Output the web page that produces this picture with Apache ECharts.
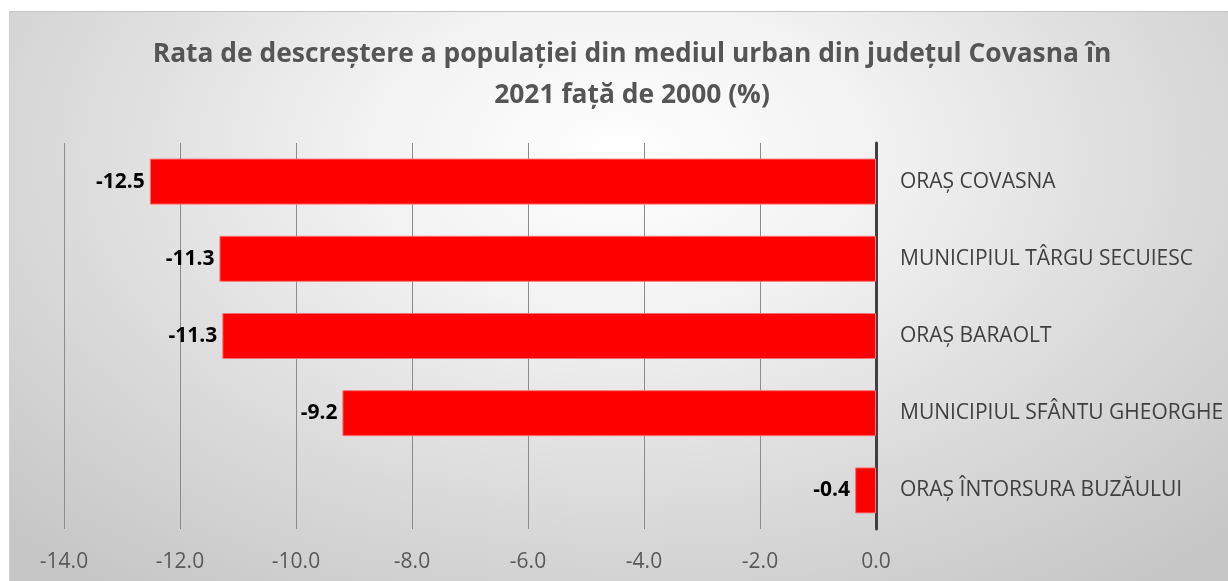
<!DOCTYPE html>
<html>
<head>
<meta charset="utf-8">
<script src="https://cdn.jsdelivr.net/npm/echarts@6/dist/echarts.min.js"></script>
<style>
  html, body { margin: 0; padding: 0; background: #fff; }
  #chart {
    position: absolute;
    left: 9px;
    top: 11px;
    width: 1219px;
    height: 570px;
    border-top: 1px solid #c4c4c4;
    border-left: 1px solid #d0d0d0;
    box-sizing: border-box;
    background: radial-gradient(ellipse 70% 95% at 50% 25%, #ffffff 0%, #f2f2f2 30%, #dedede 60%, #c6c6c6 100%);
  }
</style>
</head>
<body>
<div id="chart"></div>
<script>
const titleLines = ['Rata de descreștere a populației din mediul urban din județul Covasna în', '2021 față de 2000 (%)'];
const categories = ['ORAȘ COVASNA', 'MUNICIPIUL TÂRGU SECUIESC', 'ORAȘ BARAOLT', 'MUNICIPIUL SFÂNTU GHEORGHE', 'ORAȘ ÎNTORSURA BUZĂULUI'];
const values = [-12.52, -11.32, -11.27, -9.2, -0.36];
const axisMin = -14, axisMax = 0, axisStep = 2;

let myChart = echarts.init(document.getElementById('chart'));
let option = {
  backgroundColor: 'transparent',
  textStyle: { fontFamily: 'Open Sans' },
  title: {
    text: titleLines.join('\n'),
    left: 617,
    top: 17,
    textAlign: 'center',
    textStyle: {
      fontFamily: 'Open Sans',
      fontSize: 26.4,
      fontWeight: 'bold',
      color: '#555555',
      lineHeight: 41
    }
  },
  grid: {
    left: 54,
    top: 131,
    width: 812,
    height: 386
  },
  xAxis: {
    type: 'value',
    min: axisMin,
    max: axisMax,
    interval: axisStep,
    axisLine: { show: false },
    axisTick: { show: false },
    axisLabel: {
      color: '#595959',
      fontSize: 21,
      margin: 23,
      formatter: v => v.toFixed(1)
    },
    splitLine: {
      show: true,
      lineStyle: { color: '#8c8c8c', width: 1 }
    }
  },
  yAxis: {
    type: 'category',
    inverse: true,
    position: 'right',
    data: categories,
    axisLine: {
      show: true,
      lineStyle: { color: '#404040', width: 3 }
    },
    axisTick: { show: false },
    axisLabel: {
      color: '#404040',
      fontSize: 21,
      margin: 24
    }
  },
  series: [{
    type: 'bar',
    data: values,
    barWidth: 46,
    itemStyle: {
      color: '#ff0000',
      borderColor: '#ff7070',
      borderWidth: 1
    },
    label: {
      show: true,
      position: 'left',
      distance: 5,
      color: '#000000',
      fontSize: 21,
      fontWeight: 'bold',
      formatter: p => p.value.toFixed(1)
    }
  }]
};
myChart.setOption(option);
</script>
</body>
</html>
